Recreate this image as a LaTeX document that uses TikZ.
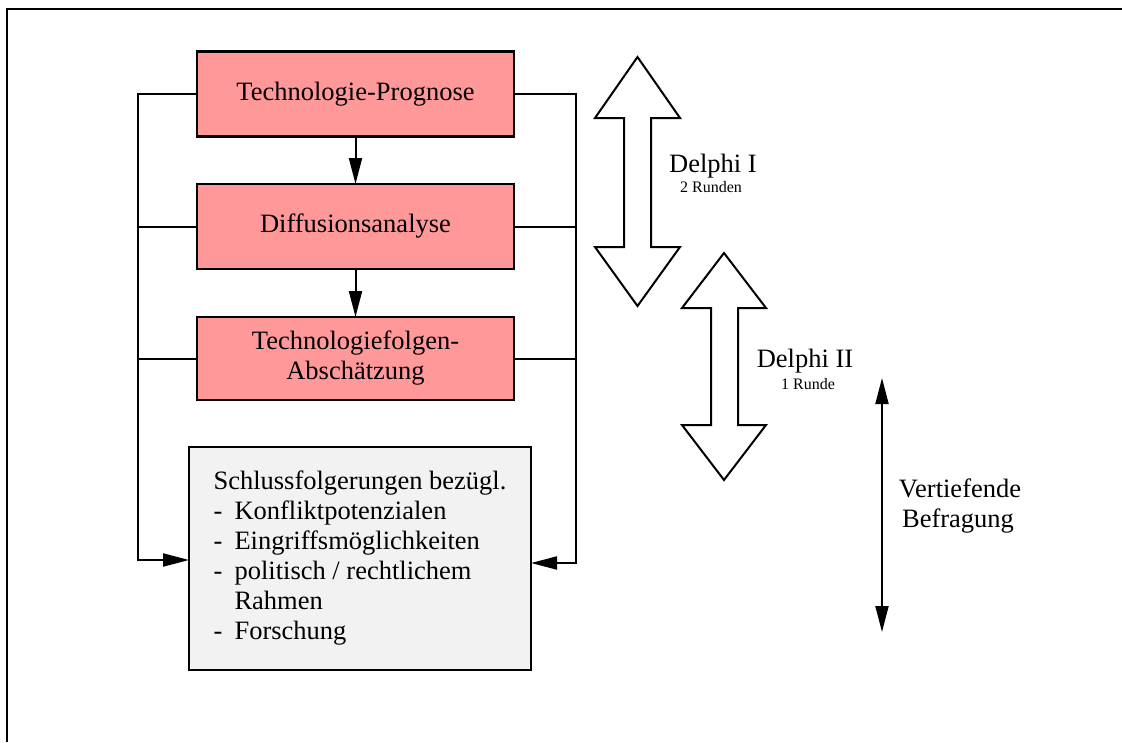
\documentclass[tikz,border=0pt]{standalone}
\usepackage{fontspec}
\setmainfont{Liberation Serif}
\usetikzlibrary{arrows.meta}
\definecolor{pinkfill}{RGB}{255,153,153}
\definecolor{grayfill}{RGB}{242,242,242}
\newcommand\bigfnt{\fontsize{26.5}{30}\selectfont}
\newcommand\smallfnt{\fontsize{16}{18}\selectfont}
\begin{document}
\begin{tikzpicture}[x=1pt,y=-1pt,
  box/.style={draw, line width=2.5pt, fill=pinkfill, minimum width=317pt, minimum height=85pt,
    inner sep=0pt, outer sep=0pt, font=\bigfnt, align=center},
  sumbox/.style={draw, line width=2.5pt, fill=grayfill, minimum width=342pt, minimum height=223pt,
    inner sep=0pt, outer sep=0pt, font=\bigfnt, align=left},
  conn/.style={line width=2pt},
  tipend/.style={-{Triangle[length=26pt,width=13pt]}},
  bigarrow/.style={draw, line width=2pt, fill=white, line join=miter},
  lbl/.style={anchor=base, inner sep=0pt, font=\bigfnt},
  slbl/.style={anchor=base, inner sep=0pt, font=\smallfnt}]
\useasboundingbox (0,0) rectangle (1122,742);
% frame
\draw[line width=2pt] (7,742) -- (7,9) -- (1122,9);
% boxes
\node[box] (b1) at (355.5,94) {Technologie-Prognose};
\node[box] (b2) at (355.5,226.5) {Diffusionsanalyse};
\node[box, minimum height=83pt] (b3) at (355.5,358.5) {Technologiefolgen-\\Abschätzung};
\node[sumbox] (b4) at (360,558.5) {Schlussfolgerungen bezügl.\\
\makebox[21pt][l]{-}Konfliktpotenzialen\\
\makebox[21pt][l]{-}Eingriffsmöglichkeiten\\
\makebox[21pt][l]{-}politisch / rechtlichem\\
\hspace*{21pt}Rahmen\\
\makebox[21pt][l]{-}Forschung};
% vertical arrows between boxes
\draw[conn,tipend] (b1) -- (b2);
\draw[conn,tipend] (b2) -- (b3);
% buses
\coordinate (lb) at (138,560);
\coordinate (rb) at (576,563);
\draw[conn,tipend] (b1.west) -| (lb) -- (lb -| b4.west);
\draw[conn] (b2.west) -- (b2.west -| lb);
\draw[conn] (b3.west) -- (b3.west -| lb);
\draw[conn,tipend] (b1.east) -| (rb) -- (rb -| b4.east);
\draw[conn] (b2.east) -- (b2.east -| rb);
\draw[conn] (b3.east) -- (b3.east -| rb);
% big double arrows
\path[bigarrow] (637.5,57) -- (680,118) -- (651,118) -- (651,247) -- (680,247) -- (637.5,306)
  -- (595,247) -- (624,247) -- (624,118) -- (595,118) -- cycle;
\path[bigarrow] (724,253) -- (766,308) -- (738,308) -- (738,425) -- (766,425) -- (724,480)
  -- (682,425) -- (711,425) -- (711,308) -- (682,308) -- cycle;
% labels
\node[lbl] (d1) at (713,172) {Delphi I};
\node[slbl] (r1) at (711,192) {2 Runden};
\node[lbl] (d2) at (805,367) {Delphi II};
\node[slbl] (r2) at (808,389) {1 Runde};
\node[lbl] (v1) at (960,497) {Vertiefende};
\node[lbl] (v2) at (958,527) {Befragung};
% thin double arrow
\coordinate (vt) at (882,378);
\coordinate (vb) at (882,632);
\draw[line width=2pt, {Triangle[length=26pt,width=13pt]}-{Triangle[length=26pt,width=13pt]}] (vt) -- (vb);
\end{tikzpicture}
\end{document}
